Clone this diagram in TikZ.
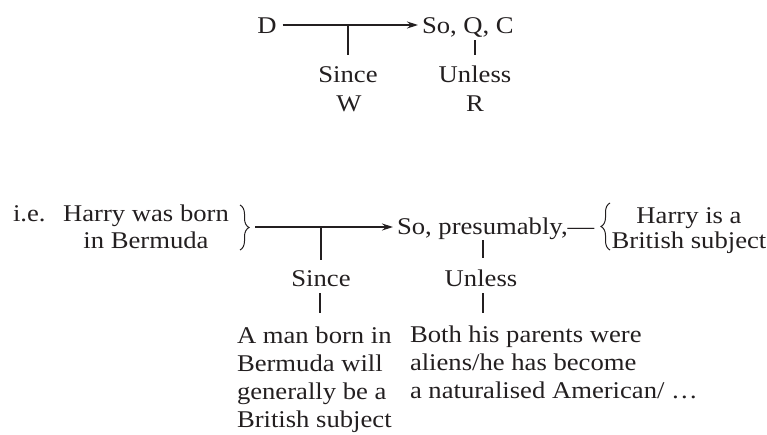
\documentclass[tikz,border=0pt]{standalone}
\usepackage{fontspec}
\setmainfont{Liberation Serif}[FakeStretch=1.11]
\usetikzlibrary{arrows.meta,decorations.pathreplacing}
\definecolor{ink}{RGB}{35,31,32}
\begin{document}
\begin{tikzpicture}[x=1pt,y=-1pt,
  every node/.style={inner sep=0pt,outer sep=0pt,text=ink,font=\fontsize{24}{28}\selectfont},
  txt/.style={anchor=base},
  txtl/.style={anchor=base west},
  blk/.style={anchor=base west,align=left},
  blkc/.style={anchor=base,align=center},
  link/.style={draw=ink,line width=1.3pt},
  arr/.style={link,-{Stealth[length=11pt,width=7pt]}},
  brc/.style={draw=ink,line width=1pt,decorate,decoration={brace,amplitude=9pt}}]
\useasboundingbox (0,0) rectangle (767,434);
% ---------- top diagram ----------
\coordinate (ty) at (0,25);
\node[txt,inner xsep=6pt] (D) at (267,33) {D};
\node[txtl] (C) at (422,33) {So, Q, C};
\node[txt] (S1) at (348,82) {Since};
\node[txt] (W) at (349,111) {W};
\node[txt] (U1) at (475,82) {Unless};
\node[txt] (R) at (475,111) {R};
\draw[arr,shorten >=4pt] (D.east |- ty) -- (C.west |- ty);
\draw[link] (S1 |- ty) -- (S1 |- 0,55);
\draw[link] (U1 |- 0,40) -- (U1 |- 0,55);
% ---------- bottom diagram ----------
\node[txtl] (ie) at (13,221) {i.e.};
\node[blkc,font=\fontsize{24}{27}\selectfont] (H) at (146,248) {Harry was born\\in Bermuda};
\draw[brc] (240,205) -- (240,250);
\coordinate (b1) at (255,227);
\node[txtl] (P) at (397,234) {So, presumably,\textemdash};
\draw[brc] (610,250) -- (610,203);
\node[blkc,font=\fontsize{24}{25}\selectfont] (B) at (689,248) {Harry is a\\British subject};
\draw[arr,shorten >=4pt] (b1) -- (P.west |- b1);
\node[txt] (S2) at (321,286) {Since};
\node[txt] (U2) at (481,286) {Unless};
\draw[link] (S2 |- b1) -- (S2 |- 0,260);
\draw[link] (320,293) -- (320,313);
\draw[link] (483,240) -- (483,258);
\draw[link] (483,293) -- (483,313);
\node[blk] (M) at (237,427) {A man born in\\Bermuda will\\generally be a\\British subject};
\node[blk] (N) at (410,398) {Both his parents were\\aliens/he has become\\a naturalised American/ \ldots};
\end{tikzpicture}
\end{document}
